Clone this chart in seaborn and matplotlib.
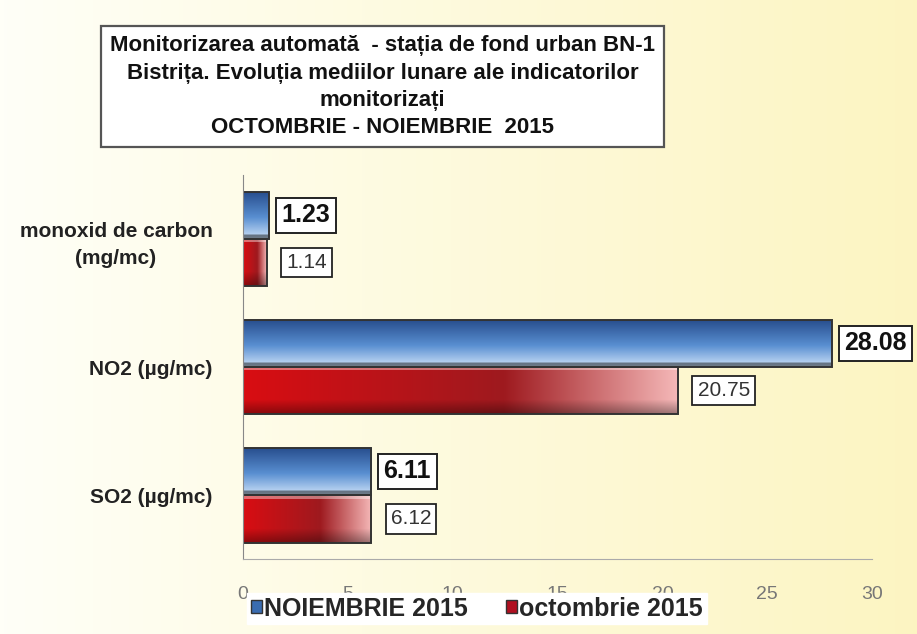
import numpy as np
import pandas as pd
import seaborn as sns
import matplotlib.pyplot as plt
from matplotlib.patches import Patch

sns.set_style("white")
plt.rcParams['font.family'] = ['Liberation Sans', 'DejaVu Sans']

# data
categories = ["monoxid de carbon\n(mg/mc)", "NO2 (µg/mc)", "SO2 (µg/mc)"]
series = ["NOIEMBRIE 2015", "octombrie 2015"]
noiembrie = [1.23, 28.08, 6.11]
octombrie = [1.14, 20.75, 6.12]
xticks = [0, 5, 10, 15, 20, 25, 30]

df = pd.DataFrame({
    "indicator": categories * 2,
    "luna": [series[0]] * 3 + [series[1]] * 3,
    "valoare": noiembrie + octombrie,
})

fig = plt.figure(figsize=(9.17, 6.34), dpi=100)

# yellowish background, white on the left
bg = fig.add_axes([0, 0, 1, 1], zorder=-10)
ramp = np.linspace(0, 1, 256)
c0 = np.array([1.0, 1.0, 0.97])
c1 = np.array([0.99, 0.96, 0.76])
img = c0[None, :] + (c1 - c0)[None, :] * ramp[:, None]
bg.imshow(img[None, :, :], aspect="auto", extent=(0, 1, 0, 1))
bg.axis("off")

ax = fig.add_axes([0.265, 0.118, 0.686, 0.606])
ax.set_facecolor("none")
sns.barplot(data=df, y="indicator", x="valoare", hue="luna", orient="h",
            palette=["#3a6cb0", "#b01020"], width=0.74, legend=False, ax=ax,
            edgecolor="#333333", linewidth=1.4)


def blue_grad():
    v = np.linspace(0, 1, 64)
    top = np.array([0.15, 0.30, 0.55])
    mid = np.array([0.35, 0.56, 0.82])
    low = np.array([0.80, 0.88, 0.97])
    cols = np.where(v[:, None] < 0.55,
                    top + (mid - top) * (v[:, None] / 0.55),
                    mid + (low - mid) * ((v[:, None] - 0.55) / 0.45))
    cols[-6:] = cols[-6:] * 0.55
    return np.repeat(cols[:, None, :], 2, axis=1)


def red_grad(n=128):
    h = np.linspace(0, 1, n)
    red = np.array([0.85, 0.05, 0.07])
    dark = np.array([0.62, 0.10, 0.12])
    pink = np.array([0.96, 0.72, 0.72])
    row = np.where(h[:, None] < 0.6,
                   red + (dark - red) * (h[:, None] / 0.6),
                   dark + (pink - dark) * ((h[:, None] - 0.6) / 0.4))
    v = np.linspace(0, 1, 48)
    shade = 1.0 - 0.35 * np.clip((v - 0.7) / 0.3, 0, 1)
    img = row[None, :, :] * shade[:, None, None]
    img[:4] = img[:4] * 0.6 + 0.4
    return np.clip(img, 0, 1)


n_cat = len(categories)
for i, p in enumerate(ax.patches[:2 * n_cat]):
    x0, y0, w, h = p.get_x(), p.get_y(), p.get_width(), p.get_height()
    grad = blue_grad() if i < n_cat else red_grad()
    im = ax.imshow(grad, aspect="auto", extent=(x0, x0 + w, y0 + h, y0),
                   origin="upper", zorder=1, interpolation="bilinear")
    im.set_clip_path(p)
    p.set_facecolor("none")
    p.set_zorder(2)

ax.set_xlim(0, 30)
ax.set_ylim(2.5, -0.5)
ax.set_xticks(xticks)
ax.set_xticklabels([str(t) for t in xticks], color="#777777", fontsize=14)
ax.tick_params(axis="x", length=0, pad=19)
ax.tick_params(axis="y", length=0, pad=22)
for lab in ax.get_yticklabels():
    lab.set_fontsize(15)
    lab.set_fontweight("bold")
    lab.set_color("#222222")
    lab.set_multialignment("center")
    lab.set_linespacing(1.5)
ax.set_xlabel("")
ax.set_ylabel("")
for s in ["top", "right"]:
    ax.spines[s].set_visible(False)
ax.spines["left"].set_color("#888888")
ax.spines["bottom"].set_color("#aaaaaa")
ax.spines["left"].set_linewidth(0.8)
ax.spines["bottom"].set_linewidth(0.8)

# value labels
for i, p in enumerate(ax.patches[:2 * n_cat]):
    val = p.get_width()
    yc = p.get_y() + p.get_height() / 2
    if i < n_cat:
        ax.annotate(f"{val:.2f}", (val, yc), xytext=(9, 0), textcoords="offset points",
                    va="center", ha="left", fontsize=18, fontweight="bold", color="#111111",
                    annotation_clip=False,
                    bbox=dict(boxstyle="square,pad=0.22", fc="white", ec="#222222", lw=1.4))
    else:
        ax.annotate(f"{val:.2f}", (val, yc), xytext=(14, 0), textcoords="offset points",
                    va="center", ha="left", fontsize=15, color="#333333",
                    annotation_clip=False,
                    bbox=dict(boxstyle="square,pad=0.25", fc="white", ec="#222222", lw=1.3))

fig.text(0.417, 0.863,
         "Monitorizarea automată  - stația de fond urban BN-1\n"
         "Bistrița. Evoluția mediilor lunare ale indicatorilor\n"
         "monitorizați\n"
         "OCTOMBRIE - NOIEMBRIE  2015",
         ha="center", va="center", fontsize=16, fontweight="bold", color="#111111",
         linespacing=1.4,
         bbox=dict(boxstyle="square,pad=0.4", fc="white", ec="#555555", lw=1.6))

handles = [Patch(facecolor="#3a6cb0", edgecolor="#333333"),
           Patch(facecolor="#b01020", edgecolor="#333333")]
leg = fig.legend(handles, series, loc="center", bbox_to_anchor=(0.52, 0.04), ncol=2,
                 frameon=True, fancybox=False, handlelength=0.45, handleheight=0.45,
                 handletextpad=0.1, columnspacing=1.5, borderpad=0.15,
                 prop={"weight": "bold", "size": 18})
leg.get_frame().set_facecolor("white")
leg.get_frame().set_edgecolor("white")
leg.get_frame().set_alpha(1)

fig.savefig("out.png", dpi=100)
